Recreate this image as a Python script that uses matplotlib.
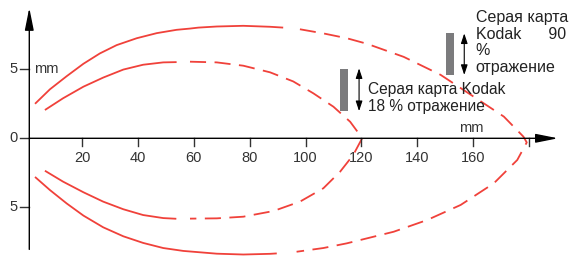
import matplotlib
matplotlib.use("Agg")
import matplotlib.pyplot as plt
from matplotlib.patches import Rectangle

plt.rcParams['font.family'] = ['Liberation Sans', 'DejaVu Sans']

RED = "#f0413a"
AXIS = "#333333"
GRAY = "#7b7b7d"
LW = 1.3
DASH = (0, (8.9, 4.7))

# outer lobe (upper branch, then lower branch), mm
outer_upper_x = [3.05, 8.4, 14.4, 20.4, 26.3, 32.3, 39.5, 46.7, 53.8, 58.6,
                 61.6, 68.2, 77.7, 87.3, 92.0,
                 98.0, 106.4, 114.8, 122.0, 135.2, 148.4, 160.4, 171.1, 178.1, 179.3]
outer_upper_y = [2.50, 3.55, 4.50, 5.40, 6.15, 6.75, 7.25, 7.62, 7.86, 7.95,
                 8.02, 8.10, 8.15, 8.08, 8.02,
                 7.90, 7.60, 7.25, 6.85, 5.90, 4.60, 3.00, 1.57, 0.12, -0.30]
outer_lower_x = [3.05, 8.4, 14.4, 20.4, 27.5, 34.7, 41.8, 49.0, 56.2, 62.2,
                 68.2, 77.7, 87.3, 89.7,
                 96.8, 106.4, 114.8, 123.0, 131.6, 143.6, 155.6, 167.5, 175.9, 179.3]
outer_lower_y = [-2.80, -3.75, -4.72, -5.60, -6.45, -7.10, -7.58, -7.95, -8.16, -8.26,
                 -8.36, -8.42, -8.37, -8.34,
                 -8.22, -7.95, -7.61, -7.20, -6.77, -5.92, -4.83, -3.26, -1.57, -0.30]
OUTER_SOLID_UPPER = 15   # first 15 points drawn solid
OUTER_SOLID_LOWER = 14

# inner lobe
inner_upper_x = [6.6, 13.1, 20.4, 27.5, 34.7, 41.8, 49.0, 53.8,
                 58.6, 68.2, 77.7, 87.3, 95.6, 102.8, 110.0, 116.0, 119.5, 120.3]
inner_upper_y = [2.05, 2.90, 3.74, 4.40, 4.98, 5.33, 5.50, 5.52,
                 5.55, 5.50, 5.26, 4.78, 4.12, 3.26, 2.29, 1.20, 0.24, 0.0]
inner_lower_x = [6.6, 13.1, 20.4, 27.5, 34.7, 41.8, 49.0, 53.7,
                 58.6, 68.2, 77.7, 88.5, 98.0, 106.4, 112.4, 117.1, 120.3]
inner_lower_y = [-2.35, -3.14, -3.91, -4.59, -5.14, -5.56, -5.78, -5.83,
                 -5.82, -5.80, -5.68, -5.27, -4.59, -3.62, -2.42, -1.21, 0.0]
INNER_SOLID_UPPER = 8
INNER_SOLID_LOWER = 8

x_ticks = [20, 40, 60, 80, 100, 120, 140, 160, 180]
x_tick_labels = ["20", "40", "60", "80", "100", "120", "140", "160", ""]
y_ticks = [5, 0, -5]
y_tick_labels = ["5", "0", "5"]

fig = plt.figure(figsize=(5.7, 2.57), dpi=100)
ax = fig.add_axes([0, 0, 1, 1])
ax.set_xlim(-9.5, 194.8)
ax.set_ylim(-8.6, 10.02)
ax.set_axis_off()


def lobe(ux, uy, lx, ly, nu, nl):
    kw = dict(color=RED, lw=LW, solid_capstyle="butt", solid_joinstyle="round")
    ax.plot(ux[:nu], uy[:nu], **kw)
    ax.plot(lx[:nl], ly[:nl], **kw)
    # dashed part runs round the tip in one go
    dx = ux[nu:] + lx[nl:][::-1]
    dy = uy[nu:] + ly[nl:][::-1]
    ax.plot(dx, dy, color=RED, lw=LW, linestyle=DASH, dash_joinstyle="round")


lobe(outer_upper_x, outer_upper_y, outer_lower_x, outer_lower_y,
     OUTER_SOLID_UPPER, OUTER_SOLID_LOWER)
lobe(inner_upper_x, inner_upper_y, inner_lower_x, inner_lower_y,
     INNER_SOLID_UPPER, INNER_SOLID_LOWER)

# axes with arrows
arrow = dict(arrowstyle="-|>,head_length=1.35,head_width=0.27",
             color="black", lw=1.0, shrinkA=0, shrinkB=0, mutation_scale=10)
ax.annotate("", xy=(190.5, 0), xytext=(1, 0), arrowprops=arrow)
ax.annotate("", xy=(1, 9.45), xytext=(1, -8.05), arrowprops=arrow)

for t, lab in zip(x_ticks, x_tick_labels):
    ax.plot([t, t], [0, -0.58], color=AXIS, lw=1.0)
    if lab:
        ax.text(t, -1.45, lab, ha="center", va="center", fontsize=10.5, color=AXIS)
for t, lab in zip(y_ticks, y_tick_labels):
    ax.plot([-2.3, 1], [t, t], color=AXIS, lw=1.0)
    ax.text(-4.8, t, lab, ha="center", va="center", fontsize=10.5, color=AXIS)

ax.text(2.8, 5.0, "mm", ha="left", va="center", fontsize=10.5, color=AXIS)
ax.text(159.3, 0.75, "mm", ha="center", va="center", fontsize=10.5, color=AXIS)

# grey cards with double arrows
ax.add_patch(Rectangle((112.3, 2.0), 3.0, 3.02, color=GRAY, lw=0))
ax.add_patch(Rectangle((150.4, 4.59), 2.8, 3.01, color=GRAY, lw=0))
darrow = dict(arrowstyle="<|-|>,head_length=0.6,head_width=0.2",
              color="black", lw=0.8, shrinkA=0, shrinkB=0, mutation_scale=10)
ax.annotate("", xy=(119.2, 5.07), xytext=(119.2, 1.97), arrowprops=darrow)
ax.annotate("", xy=(156.9, 7.6), xytext=(156.9, 4.59), arrowprops=darrow)

ax.text(122.5, 2.92, "Серая карта Kodak\n18 % отражение", ha="left", va="center",
        fontsize=11.2, color="#222222", linespacing=1.15)
ax.text(161.0, 6.94, "Серая карта\nKodak      90\n%\nотражение", ha="left",
        va="center", fontsize=11.5, color="#222222", linespacing=1.12)

fig.savefig("out.png", dpi=100)
